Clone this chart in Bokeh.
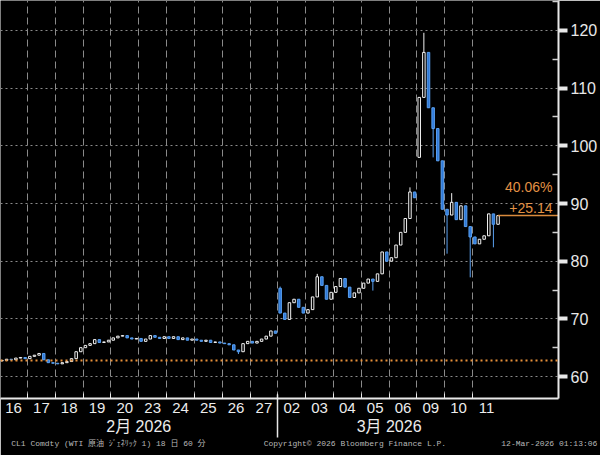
import numpy as np
from bokeh.plotting import figure
from bokeh.models import LinearAxis, FixedTicker, Range1d, Span, ColumnDataSource
from bokeh.core.properties import value
from bokeh.embed import file_html
from bokeh.resources import INLINE

# ---------------- data ----------------
day_labels = ["16", "17", "18", "19", "20", "23", "24", "25", "26", "27",
              "02", "03", "04", "05", "06", "09", "10", "11"]
month_labels = ["2月 2026", "3月 2026"]
days_per_month = [10, 8]
bars_per_day = 6

closes = [
    62.8, 63.0, 62.9, 63.2, 63.3, 63.1,    # 16
    63.5, 63.7, 64.0, 62.9, 62.4, 62.3,    # 17
    62.2, 62.4, 62.6, 63.1, 64.3, 65.0,    # 18
    65.4, 65.7, 66.4, 65.9, 66.0, 66.3,    # 19
    66.7, 67.0, 67.1, 66.7, 66.5, 66.6,    # 20
    66.1, 66.5, 67.1, 66.8, 66.6, 66.9,    # 23
    66.6, 66.9, 66.4, 66.7, 66.3, 66.5,    # 24
    66.3, 66.1, 66.3, 65.9, 66.0, 65.8,    # 25
    65.7, 65.5, 64.6, 64.3, 65.7, 66.1,    # 26
    65.8, 66.1, 66.5, 67.0, 67.9, 67.5,    # 27
    71.0, 69.9, 72.8, 73.4, 72.0, 71.0,    # 02
    71.6, 73.8, 77.3, 75.8, 73.4, 74.6,    # 03
    75.6, 77.0, 75.5, 73.7, 74.5, 75.3,    # 04
    76.2, 76.9, 76.5, 77.8, 81.6, 80.0,    # 05
    80.6, 82.8, 85.0, 87.4, 92.0, 91.0,    # 06
    108.4, 116.2, 106.6, 103.0, 97.4, 89.0,  # 09
    88.0, 90.2, 87.2, 89.6, 86.0, 84.2,    # 10
    83.0, 83.8, 84.4, 88.2, 86.4, 87.9,    # 11
]
first_open = 62.7
gap_bars = [60, 90]
gap_opens = [75.3, 98.0]
wick_bars = [91, 93, 96, 97, 101, 106, 80, 88, 51, 68, 60]
wick_values = [119.6, 98.0, 81.3, 91.8, 77.2, 82.4, 74.9, 92.8, 63.9, 77.8, 75.6]

base_price = 62.76
last_price = 87.90
change_pct = "40.06%"
change_abs = "+25.14"

price_ticks = [60, 70, 80, 90, 100, 110, 120]
price_minor_ticks = [65, 75, 85, 95, 105, 115, 125]

footer_texts = ["CL1 Comdty (WTI 原油 ｼﾞｪﾈﾘｯｸ 1) 18 日 60 分",
                "Copyright© 2026 Bloomberg Finance L.P.",
                "12-Mar-2026 01:13:06"]

# ---------------- derived ----------------
n = len(closes)
opens = [first_open] + closes[:-1]
for b, o in zip(gap_bars, gap_opens):
    opens[b] = o
highs = [max(o, c) for o, c in zip(opens, closes)]
lows = [min(o, c) for o, c in zip(opens, closes)]
for b, w in zip(wick_bars, wick_values):
    highs[b] = max(highs[b], w)
    lows[b] = min(lows[b], w)
xs = [i // bars_per_day + (i % bars_per_day + 0.5) / bars_per_day for i in range(n)]
up = [c >= o for o, c in zip(opens, closes)]

def sub(mask):
    idx = [i for i in range(n) if mask[i]]
    return ColumnDataSource(dict(
        x=[xs[i] for i in idx],
        top=[max(opens[i], closes[i]) for i in idx],
        bottom=[min(opens[i], closes[i]) for i in idx],
        high=[highs[i] for i in idx],
        low=[lows[i] for i in idx],
    ))

src_up = sub(up)
src_dn = sub([not u for u in up])

n_days = len(day_labels)
day_centers = [d + 0.5 for d in range(n_days)]
day_bounds = [float(d) for d in range(1, n_days)]
month_edges = np.cumsum([0] + days_per_month)
month_centers = [float((month_edges[k] + month_edges[k + 1]) / 2) for k in range(len(days_per_month))]
month_seps = [float(e) for e in month_edges[1:-1]]

# ---------------- figure ----------------
x_range = Range1d(0.03, 20.09)
y_range = Range1d(56.19, 125.2)
p = figure(width=600, height=455, x_range=x_range, y_range=y_range,
           y_axis_location="right", output_backend="svg", toolbar_location=None,
           background_fill_color="black", border_fill_color="black",
           outline_line_color=None, min_border_left=0, min_border_top=0,
           min_border_right=41, min_border_bottom=57)

WHITE = "#e8e8e8"

# right price axis
ya = p.yaxis[0]
ya.ticker = FixedTicker(ticks=price_ticks, minor_ticks=price_minor_ticks)
ya.axis_line_color = WHITE
ya.axis_line_width = 2
ya.major_tick_line_color = WHITE
ya.major_tick_line_width = 4
ya.major_tick_in = 0
ya.major_tick_out = 9
ya.minor_tick_line_color = "#d0d0d0"
ya.minor_tick_line_width = 1.5
ya.minor_tick_in = 6
ya.minor_tick_out = 0
ya.major_label_text_color = WHITE
ya.major_label_text_font = "Liberation Sans"
ya.major_label_text_font_size = "16px"
ya.major_label_standoff = 3

# day axis
xa = p.xaxis[0]
xa.ticker = FixedTicker(ticks=day_centers, minor_ticks=day_bounds)
xa.major_label_overrides = {c: lab for c, lab in zip(day_centers, day_labels)}
xa.major_tick_line_color = None
xa.major_tick_in = 0
xa.major_tick_out = 0
xa.minor_tick_line_color = WHITE
xa.minor_tick_in = 5
xa.minor_tick_out = 0
xa.axis_line_color = WHITE
xa.axis_line_width = 2
xa.major_label_text_color = "#ececec"
xa.major_label_text_font = "Liberation Sans"
xa.major_label_text_font_size = "15px"
xa.major_label_standoff = 4

# month axis
ma = LinearAxis(ticker=FixedTicker(ticks=month_centers))
ma.major_label_overrides = {c: lab for c, lab in zip(month_centers, month_labels)}
ma.axis_line_color = None
ma.major_tick_line_color = None
ma.minor_tick_line_color = None
ma.major_tick_in = 0
ma.major_tick_out = 0
ma.minor_tick_in = 0
ma.minor_tick_out = 0
ma.major_label_text_color = "#ececec"
ma.major_label_text_font = "Liberation Sans, Noto Sans CJK JP"
ma.major_label_text_font_size = "16px"
ma.major_label_standoff = 2
p.add_layout(ma, "below")

# footer axis (its minor tick draws the month separator upward)
footer_pos = [3.91, 12.77, 19.76]
fa = LinearAxis(ticker=FixedTicker(ticks=footer_pos, minor_ticks=month_seps))
fa.major_label_overrides = {c: t for c, t in zip(footer_pos, footer_texts)}
fa.axis_line_color = None
fa.major_tick_line_color = None
fa.major_tick_in = 0
fa.major_tick_out = 0
fa.minor_tick_line_color = WHITE
fa.minor_tick_line_width = 1.5
fa.minor_tick_in = 43
fa.minor_tick_out = 0
fa.major_label_text_color = "#b8b8b8"
fa.major_label_text_font = "Liberation Mono, Noto Sans CJK JP"
fa.major_label_text_font_size = "8px"
fa.major_label_standoff = 1
p.add_layout(fa, "below")

# grids
p.ygrid.ticker = FixedTicker(ticks=price_ticks)
p.ygrid.grid_line_color = "#8a8a8a"
p.ygrid.grid_line_dash = "2 3"
p.ygrid.grid_line_width = 1
p.xgrid.ticker = FixedTicker(ticks=day_bounds)
p.xgrid.grid_line_color = "#8a8a8a"
p.xgrid.grid_line_dash = "7 4"
p.xgrid.grid_line_width = 1

# base price dotted line
p.add_layout(Span(location=base_price, dimension="width", line_color="#e8913a",
                  line_dash="2 3", line_width=2))

# candles
BLUE_F = "#2f78d8"
BLUE_L = "#5aa0f0"
p.segment(x0="x", y0="low", x1="x", y1="high", source=src_up, line_color="#f2f2f2", line_width=1)
p.segment(x0="x", y0="low", x1="x", y1="high", source=src_dn, line_color=BLUE_L, line_width=1)
p.vbar(x="x", width=0.09, top="top", bottom="bottom", source=src_up,
       fill_color="black", line_color="#f2f2f2", line_width=1)
p.vbar(x="x", width=0.09, top="top", bottom="bottom", source=src_dn,
       fill_color=BLUE_F, line_color=BLUE_L, line_width=1)

# last price line and change labels
p.segment(x0=[xs[-1]], y0=[last_price], x1=[x_range.end], y1=[last_price],
          line_color="#d98a3c", line_width=1.5)
p.text(x=[x_range.end], y=[last_price], text=[change_pct], text_align="right",
       text_baseline="middle", x_offset=-6, y_offset=-29, text_color="#e39245",
       text_font=value("Liberation Sans"), text_font_size="14px")
p.text(x=[x_range.end], y=[last_price], text=[change_abs], text_align="right",
       text_baseline="middle", x_offset=-6, y_offset=-8, text_color="#e39245",
       text_font=value("Liberation Sans"), text_font_size="14px")

open("out.html", "w").write(file_html(p, INLINE))
